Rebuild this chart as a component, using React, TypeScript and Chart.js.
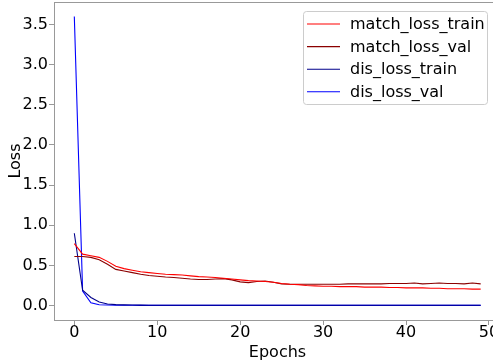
import React, { useEffect, useRef } from 'react';
import { Chart, registerables } from 'chart.js';

Chart.register(...registerables);

const epochs = [
  0, 1, 2, 3, 4, 5, 6, 7, 8, 9,
  10, 11, 12, 13, 14, 15, 16, 17, 18, 19,
  20, 21, 22, 23, 24, 25, 26, 27, 28, 29,
  30, 31, 32, 33, 34, 35, 36, 37, 38, 39,
  40, 41, 42, 43, 44, 45, 46, 47, 48, 49,
];

const matchLossTrain = [
  0.77, 0.64, 0.62, 0.60, 0.55, 0.49, 0.46, 0.44, 0.42, 0.41,
  0.40, 0.39, 0.385, 0.38, 0.37, 0.36, 0.355, 0.35, 0.34, 0.33,
  0.32, 0.31, 0.305, 0.30, 0.29, 0.275, 0.265, 0.26, 0.25, 0.245,
  0.24, 0.24, 0.235, 0.235, 0.235, 0.23, 0.23, 0.23, 0.225, 0.225,
  0.22, 0.22, 0.22, 0.215, 0.215, 0.21, 0.21, 0.21, 0.205, 0.205,
];

const matchLossVal = [
  0.61, 0.61, 0.60, 0.57, 0.515, 0.45, 0.43, 0.41, 0.39, 0.375,
  0.365, 0.355, 0.35, 0.34, 0.33, 0.325, 0.325, 0.33, 0.335, 0.32,
  0.295, 0.285, 0.30, 0.305, 0.29, 0.27, 0.265, 0.265, 0.265, 0.265,
  0.265, 0.265, 0.265, 0.27, 0.27, 0.27, 0.27, 0.27, 0.275, 0.275,
  0.275, 0.28, 0.27, 0.275, 0.28, 0.275, 0.275, 0.27, 0.28, 0.27,
];

const disLossTrain = [
  0.90, 0.19, 0.10, 0.045, 0.02, 0.012, 0.008, 0.006, 0.005, 0.004,
  0.004, 0.004, 0.004, 0.003, 0.003, 0.003, 0.003, 0.003, 0.003, 0.003,
  0.003, 0.003, 0.003, 0.003, 0.003, 0.003, 0.003, 0.003, 0.003, 0.003,
  0.003, 0.003, 0.003, 0.003, 0.003, 0.003, 0.003, 0.003, 0.003, 0.003,
  0.003, 0.003, 0.003, 0.003, 0.003, 0.003, 0.003, 0.003, 0.003, 0.003,
];

const disLossVal = [
  3.60, 0.18, 0.035, 0.01, 0.006, 0.004, 0.003, 0.003, 0.002, 0.002,
  0.002, 0.002, 0.002, 0.002, 0.002, 0.002, 0.002, 0.002, 0.002, 0.002,
  0.002, 0.002, 0.002, 0.002, 0.002, 0.002, 0.002, 0.002, 0.002, 0.002,
  0.002, 0.002, 0.002, 0.002, 0.002, 0.002, 0.002, 0.002, 0.002, 0.002,
  0.002, 0.002, 0.002, 0.002, 0.002, 0.002, 0.002, 0.002, 0.002, 0.002,
];

const seriesLabels = ['match_loss_train', 'match_loss_val', 'dis_loss_train', 'dis_loss_val'];
const seriesColors = ['#ff0000', '#8b0000', '#00008b', '#0000ff'];
const seriesValues = [matchLossTrain, matchLossVal, disLossTrain, disLossVal];

const xTitle = 'Epochs';
const yTitle = 'Loss';

const FONT = '"DejaVu Sans", sans-serif';
const SPINE = '#999999';

const mplPlugin = {
  id: 'mplExtras',
  afterDraw(chart: any) {
    const ctx = chart.ctx as CanvasRenderingContext2D;
    const ca = chart.chartArea;
    ctx.save();
    // top spine
    ctx.strokeStyle = SPINE;
    ctx.lineWidth = 1;
    ctx.beginPath();
    ctx.moveTo(ca.left, Math.round(ca.top) + 0.5);
    ctx.lineTo(ca.right, Math.round(ca.top) + 0.5);
    ctx.stroke();

    // legend box
    const bx = 303, by = 11, bw = 184, bh = 93;
    ctx.fillStyle = 'rgba(255,255,255,0.8)';
    ctx.strokeStyle = '#cccccc';
    ctx.beginPath();
    (ctx as any).roundRect(bx + 0.5, by + 0.5, bw, bh, 3);
    ctx.fill();
    ctx.stroke();

    ctx.font = '16px ' + FONT;
    ctx.textBaseline = 'middle';
    ctx.textAlign = 'left';
    chart.data.datasets.forEach((ds: any, i: number) => {
      const y = 24 + i * 22.6;
      ctx.strokeStyle = ds.borderColor;
      ctx.lineWidth = 1.1;
      ctx.beginPath();
      ctx.moveTo(307, y);
      ctx.lineTo(340, y);
      ctx.stroke();
      ctx.fillStyle = '#000000';
      ctx.fillText(ds.label, 350, y + 1);
    });
    ctx.restore();
  },
};

export default function App() {
  const ref = useRef<HTMLCanvasElement | null>(null);

  useEffect(() => {
    if (!ref.current) return;
    const datasets = seriesValues.map((vals, i) => ({
      label: seriesLabels[i],
      data: epochs.map((e, j) => ({ x: e, y: vals[j] })),
      borderColor: seriesColors[i],
      backgroundColor: seriesColors[i],
      borderWidth: 1.1,
      pointRadius: 0,
      tension: 0,
      fill: false,
    }));

    const chart = new Chart(ref.current, {
      type: 'line',
      data: { datasets },
      plugins: [mplPlugin],
      options: {
        responsive: false,
        animation: false,
        devicePixelRatio: 1,
        layout: { padding: { top: 2, right: 0, left: 0, bottom: 0 } },
        plugins: {
          legend: { display: false },
          tooltip: { enabled: false },
        },
        scales: {
          x: {
            type: 'linear',
            min: -2.45,
            max: 51.45,
            ticks: {
              stepSize: 10,
              includeBounds: false,
              color: '#000000',
              font: { family: FONT, size: 16 },
              padding: -2,
              maxRotation: 0,
              autoSkip: false,
            },
            grid: {
              display: true,
              drawOnChartArea: false,
              drawTicks: true,
              tickLength: 5,
              color: SPINE,
            },
            border: { display: true, color: SPINE, width: 1 },
            title: {
              display: true,
              text: xTitle,
              color: '#000000',
              font: { family: FONT, size: 16 },
              padding: { top: 0, bottom: 2 },
            },
            afterFit(scale: any) {
              scale.height = 44;
              scale.paddingLeft = 0;
              scale.paddingRight = 0;
            },
          },
          y: {
            type: 'linear',
            min: -0.18,
            max: 3.78,
            ticks: {
              stepSize: 0.5,
              includeBounds: false,
              color: '#000000',
              font: { family: FONT, size: 16 },
              padding: 1,
              callback: (v: any) => Number(v).toFixed(1),
            },
            grid: {
              display: true,
              drawOnChartArea: false,
              drawTicks: true,
              tickLength: 5,
              color: SPINE,
            },
            border: { display: true, color: SPINE, width: 1 },
            title: {
              display: true,
              text: yTitle,
              color: '#000000',
              font: { family: FONT, size: 16 },
              padding: { top: 6, bottom: 0 },
            },
            afterFit(scale: any) {
              scale.width = 54;
              scale.paddingTop = 0;
              scale.paddingBottom = 0;
            },
          },
        },
      },
    });
    return () => chart.destroy();
  }, []);

  return (
    <div style={{ position: 'fixed', left: 0, top: 0, width: 493, height: 364, overflow: 'hidden', background: '#fff' }}>
      <canvas ref={ref} width={501} height={364} style={{ display: 'block', width: 501, height: 364 }} />
    </div>
  );
}
